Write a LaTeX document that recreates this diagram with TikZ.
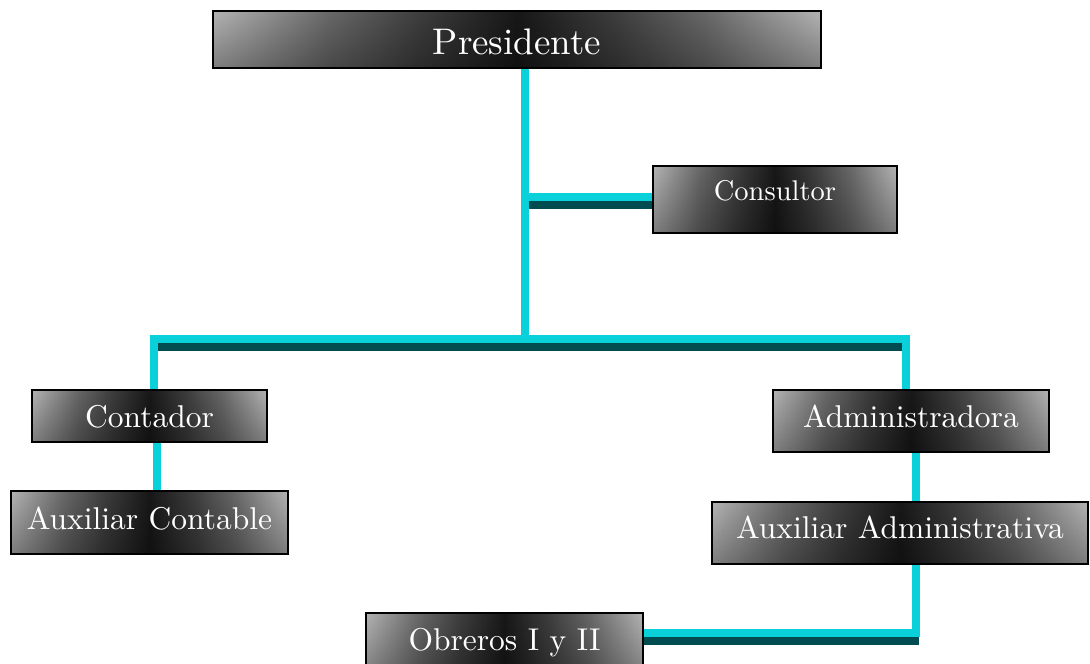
\documentclass[tikz,border=0pt]{standalone}
\usepackage{fontspec}
\newfontfamily\boxfont{lmroman10-regular.otf}
\usetikzlibrary{shadows,fadings,backgrounds}
\definecolor{conncyan}{RGB}{10,208,218}
\definecolor{connshadow}{RGB}{0,76,80}
\definecolor{boxedge}{RGB}{180,180,180}
\definecolor{boxone}{RGB}{105,105,105}
\definecolor{boxtwo}{RGB}{62,62,62}
\definecolor{boxmid}{RGB}{24,24,24}
\pgfdeclarehorizontalshading{boxshade}{100bp}{color(0bp)=(boxedge); color(25bp)=(boxedge); color(34.5bp)=(boxone); color(42bp)=(boxtwo); color(50bp)=(boxmid); color(58bp)=(boxtwo); color(65.5bp)=(boxone); color(75bp)=(boxedge); color(100bp)=(boxedge)}
\begin{document}
\begin{tikzpicture}[x=1pt,y=-1pt,
  orgbox/.style={draw=black, line width=1.6pt, inner sep=0pt, outer sep=0pt,
    text=white, shading=boxshade,
    drop shadow={shadow xshift=1.3pt, shadow yshift=-1.3pt, fill=black, opacity=0.9},
    postaction={fill=black, fill opacity=0.3, path fading=north}},
  bigtext/.style={font=\boxfont\fontsize{37}{42}\selectfont},
  constext/.style={font=\boxfont\fontsize{28.5}{34}\selectfont},
  midtext/.style={font=\boxfont\fontsize{31.5}{36}\selectfont},
  conn/.style={draw=conncyan, line width=7.5pt, line join=miter},
  connshade/.style={draw=connshadow, line width=8pt, transform canvas={yshift=-8pt}}]
\useasboundingbox (0,0) rectangle (1090,664);

\node[orgbox, bigtext, minimum width=608pt, text height=43pt, text depth=14pt] (pres) at (517,39.5) {Presidente};
\node[orgbox, constext, minimum width=244pt, text height=34pt, text depth=33pt] (cons) at (775,199.5) {Consultor};
\node[orgbox, midtext, minimum width=235pt, text height=37pt, text depth=15pt] (cont) at (149.5,416) {Contador};
\node[orgbox, midtext, minimum width=277pt, text height=38pt, text depth=25pt] (auxc) at (149.5,522.5) {Auxiliar Contable};
\node[orgbox, midtext, minimum width=276pt, text height=37pt, text depth=25pt] (adm) at (911,421) {Administradora};
\node[orgbox, midtext, minimum width=376pt, text height=36pt, text depth=26pt] (auxa) at (900,533) {Auxiliar Administrativa};
\node[orgbox, midtext, minimum width=277pt, text height=37pt, text depth=26pt] (obr) at (504.5,644.5) {Obreros I y II};

\coordinate (tb) at (525,339);
\coordinate (tc) at (525,197);
\coordinate (hl) at (154,339);
\coordinate (hr) at (906,339);
\coordinate (cxl) at (157,0);
\coordinate (axr) at (916,0);
\coordinate (ob) at (916,633);
\coordinate (obs) at (919,633);

\begin{pgfonlayer}{background}
\draw[connshade] (tc) -- (tc -| cons.west);
\draw[connshade] (hl) -- (hr);
\draw[connshade] (obr.east |- ob) -- (obs);
\draw[conn] (pres.south -| tb) -- (tb);
\draw[conn] (tc) -- (tc -| cons.west);
\draw[conn] (cont.north -| hl) -- (hl) -- (hr) -- (adm.north -| hr);
\draw[conn] (cont.south -| cxl) -- (auxc.north -| cxl);
\draw[conn] (adm.south -| axr) -- (auxa.north -| axr);
\draw[conn] (auxa.south -| axr) -- (ob) -- (obr.east |- ob);
\end{pgfonlayer}
\end{tikzpicture}
\end{document}
